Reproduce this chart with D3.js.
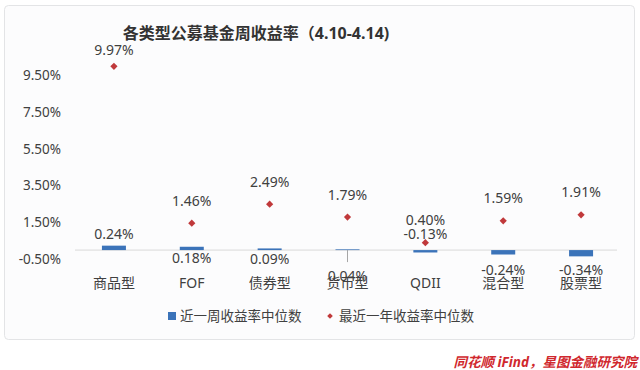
<!DOCTYPE html>
<html>
<head>
<meta charset="utf-8">
<script src="https://cdn.jsdelivr.net/npm/d3@7"></script>
<style>
  body { margin: 0; background: #fff; }
  text { font-family: "Noto Sans", "Noto Sans CJK SC", sans-serif; }
</style>
</head>
<body>
<div id="chart"></div>
<script>
// data
var categories = ["商品型", "FOF", "债券型", "货币型", "QDII", "混合型", "股票型"];
var weekReturn = [0.24, 0.18, 0.09, 0.04, -0.13, -0.24, -0.34];
var yearReturn = [9.97, 1.46, 2.49, 1.79, 0.40, 1.59, 1.91];
var yTicks = [-0.5, 1.5, 3.5, 5.5, 7.5, 9.5];
var seriesNames = ["近一周收益率中位数", "最近一年收益率中位数"];

var svgWidth = 640;
var svgHeight = 370;

// label offsets (px from zero line) as they sit in the original
var weekLabelDy = [-17, 7, 8, 25, -17, 19, 19];

var svg = d3.select("#chart")
    .append("svg")
    .attr("width", svgWidth)
    .attr("height", svgHeight);

// frame
svg.append("rect")
    .attr("x", 4.5).attr("y", 5.5)
    .attr("width", 630).attr("height", 334)
    .attr("rx", 4)
    .attr("fill", "#fcfcfd")
    .attr("stroke", "#e3e4e6");

// title
svg.append("text")
    .attr("x", 256).attr("y", 33)
    .attr("text-anchor", "middle")
    .attr("dominant-baseline", "central")
    .style("font-size", "16px")
    .style("font-weight", "bold")
    .attr("fill", "#333")
    .text("各类型公募基金周收益率（4.10-4.14)");

//Create Scale
var x = d3.scaleBand()
    .domain(categories)
    .range([75, 620]);

var y = d3.scaleLinear()
    .domain([-0.5, 11.5])
    .range([259.3, 38.1]);

var fmt = function(v) { return v.toFixed(2) + "%"; };

// y axis labels
var yAxis = d3.axisLeft(y)
    .tickValues(yTicks)
    .tickSize(0)
    .tickPadding(0)
    .tickFormat(fmt);

var yG = svg.append("g")
    .attr("transform", "translate(61,0)")
    .call(yAxis);
yG.select(".domain").remove();
yG.selectAll("text")
    .style("font-size", "13.5px")
    .attr("fill", "#404040");

// zero line
svg.append("line")
    .attr("x1", 75).attr("x2", 617)
    .attr("y1", y(0)).attr("y2", y(0))
    .attr("stroke", "#d9d9d9")
    .attr("stroke-width", 1);

// small leader line under 货币型
svg.append("line")
    .attr("x1", x("货币型") + x.bandwidth() / 2)
    .attr("x2", x("货币型") + x.bandwidth() / 2)
    .attr("y1", y(0)).attr("y2", y(0) + 12)
    .attr("stroke", "#a6a6a6");

// bars
var barW = 24;
svg.selectAll("rect.bar")
    .data(weekReturn)
    .enter()
    .append("rect")
    .attr("class", "bar")
    .attr("x", (d, i) => x(categories[i]) + x.bandwidth() / 2 - barW / 2)
    .attr("y", d => Math.min(y(d), y(0)))
    .attr("width", barW)
    .attr("height", d => Math.abs(y(d) - y(0)))
    .attr("fill", "#3b73b9");

// diamonds
var diamond = d3.symbol().type(d3.symbolSquare).size(26);
svg.selectAll("path.pt")
    .data(yearReturn)
    .enter()
    .append("path")
    .attr("class", "pt")
    .attr("d", diamond)
    .attr("transform", (d, i) => `translate(${x(categories[i]) + x.bandwidth() / 2},${y(d)}) rotate(45)`)
    .attr("fill", "#c0393b");

// diamond labels
svg.selectAll("text.ylab")
    .data(yearReturn)
    .enter()
    .append("text")
    .attr("class", "ylab")
    .attr("x", (d, i) => x(categories[i]) + x.bandwidth() / 2)
    .attr("y", d => d > 9 ? 49 : y(d) - 23)
    .attr("text-anchor", "middle")
    .attr("dominant-baseline", "central")
    .style("font-size", "14px")
    .attr("fill", "#404040")
    .text(fmt);

// bar labels
svg.selectAll("text.wlab")
    .data(weekReturn)
    .enter()
    .append("text")
    .attr("class", "wlab")
    .attr("x", (d, i) => x(categories[i]) + x.bandwidth() / 2)
    .attr("y", (d, i) => y(0) + weekLabelDy[i])
    .attr("text-anchor", "middle")
    .attr("dominant-baseline", "central")
    .style("font-size", "14px")
    .attr("fill", "#404040")
    .text(fmt);

// category labels
svg.selectAll("text.cat")
    .data(categories)
    .enter()
    .append("text")
    .attr("class", "cat")
    .attr("x", d => x(d) + x.bandwidth() / 2)
    .attr("y", 282)
    .attr("text-anchor", "middle")
    .attr("dominant-baseline", "central")
    .style("font-size", "14px")
    .attr("fill", "#404040")
    .text(d => d);

// legend
var legend = svg.append("g");
legend.append("rect")
    .attr("x", 168).attr("y", 312)
    .attr("width", 8).attr("height", 8)
    .attr("fill", "#3b73b9");
legend.append("text")
    .attr("x", 180).attr("y", 316)
    .attr("dominant-baseline", "central")
    .style("font-size", "13.5px")
    .attr("fill", "#404040")
    .text(seriesNames[0]);
legend.append("path")
    .attr("d", d3.symbol().type(d3.symbolSquare).size(16))
    .attr("transform", "translate(330,316) rotate(45)")
    .attr("fill", "#c0393b");
legend.append("text")
    .attr("x", 339).attr("y", 316)
    .attr("dominant-baseline", "central")
    .style("font-size", "13.5px")
    .attr("fill", "#404040")
    .text(seriesNames[1]);

// source
svg.append("text")
    .attr("x", 637).attr("y", 362)
    .attr("text-anchor", "end")
    .attr("dominant-baseline", "central")
    .style("font-size", "13.5px")
    .style("font-style", "italic")
    .style("font-weight", "bold")
    .attr("fill", "#d0282e")
    .text("同花顺 iFind，星图金融研究院");
</script>
</body>
</html>
